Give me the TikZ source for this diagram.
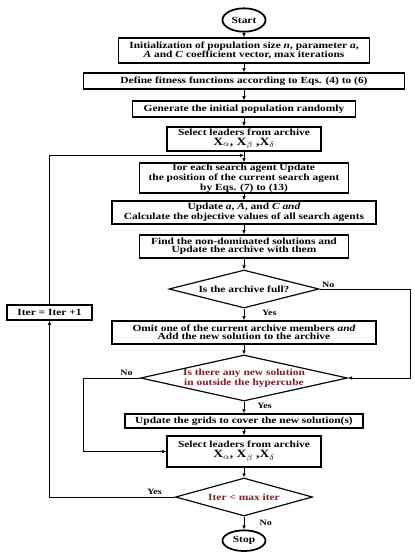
\documentclass[tikz,border=0pt]{standalone}
\usepackage{fontspec}
\setmainfont{Liberation Serif}[FakeStretch=1.22]
\usepackage{tikz}
\usetikzlibrary{shapes.geometric, arrows.meta, positioning, calc}

\definecolor{darkred}{RGB}{125,30,35}
\newcommand{\boxfont}{\fontsize{8}{7}\selectfont\bfseries}
\newcommand{\leaderset}{{\fontsize{9.5}{9.5}\selectfont X$_{\alpha}$, X$_{\beta}$ ,X$_{\delta}$}}

\begin{document}
\begin{tikzpicture}[
  %% box styles
  proc/.style={
    rectangle, draw=black, line width=1.3pt,
    align=center, inner sep=0.5pt, font=\boxfont},
  term/.style={
    ellipse, draw=black, line width=1.5pt,
    minimum width=1.29cm, minimum height=0.70cm, inner sep=0pt,
    font=\boxfont},
  decide/.style={
    diamond, draw=black, line width=1pt, aspect=4.5,
    align=center, inner sep=-3pt, font=\boxfont},
  arr/.style={-{Latex[length=3.5pt,width=3.2pt]}, line width=0.8pt},
  lbl/.style={font=\fontsize{7}{7}\selectfont\bfseries, inner sep=1pt}
]
\useasboundingbox (-7.32,0) rectangle (5.13,-16.59);

%% ── main column ──────────────────────────────────────────────────────────
\node[term] (start) at (0,-0.60) {Start};

\node[proc, minimum width=7.53cm, minimum height=0.75cm] (init) at (0,-1.515) {%
  Initialization of population size \textit{n}, parameter \textit{a},\\
  \textit{A} and \textit{C} coefficient vector, max iterations};

\node[proc, minimum width=9.63cm, minimum height=0.48cm] (define) at (0,-2.43) {%
  Define fitness functions according to Eqs. (4) to (6)};

\node[proc, minimum width=6.69cm, minimum height=0.48cm] (gen) at (0,-3.27) {%
  Generate the initial population randomly};

\node[proc, minimum width=4.62cm, minimum height=0.72cm] (sel1) at (0,-4.17) {%
  Select leaders from archive\\[1.5pt]
  \leaderset};

\node[proc, minimum width=6.27cm, minimum height=0.90cm] (foreach) at (0,-5.34) {%
  for each search agent Update\\
  the position of the current search agent\\
  by Eqs. (7) to (13)};

\node[proc, minimum width=7.92cm, minimum height=0.69cm] (upd) at (0,-6.375) {%
  Update \textit{a}, \textit{A}, and \textit{C and}\\
  Calculate the objective values of all search agents};

\node[proc, minimum width=6.27cm, minimum height=0.69cm] (find) at (0,-7.395) {%
  Find the non-dominated solutions and\\
  Update the archive with them};

\node[decide, minimum width=4.5cm, minimum height=1.14cm] (full) at (0,-8.67) {%
  Is the archive full?};

\node[proc, minimum width=7.92cm, minimum height=0.69cm] (omit) at (0,-9.975) {%
  Omit one of the current archive members \textit{and}\\
  Add the new solution to the archive};

\node[decide, minimum width=6.21cm, minimum height=1.38cm, text=darkred] (outside) at (0,-11.34) {%
  Is there any new solution\\
  in outside the hypercube};

\node[proc, minimum width=7.14cm, minimum height=0.42cm] (grid) at (0,-12.63) {%
  Update the grids to cover the new solution(s)};

\node[proc, minimum width=4.62cm, minimum height=0.93cm] (sel2) at (0,-13.545) {%
  Select leaders from archive\\[1.5pt]
  \leaderset};

\node[decide, minimum width=4.11cm, minimum height=1.14cm, text=darkred] (maxit) at (0,-14.91) {%
  Iter < max iter};

\node[term, minimum height=0.62cm] (stop) at (0,-16.22) {Stop};

%% iteration counter (left side)
\node[proc, minimum width=2.55cm, minimum height=0.45cm] (iter) at (-5.835,-9.375) {%
  Iter = Iter +1};

%% ── Arrows ───────────────────────────────────────────────────────────────
\draw[arr] (start)   -- (init);
\draw[arr] (init)    -- (define);
\draw[arr] (define)  -- (gen);
\draw[arr] (gen)     -- (sel1);
\draw[arr] (sel1)    -- (foreach);
\draw[arr] (foreach) -- (upd);
\draw[arr] (upd)     -- (find);
\draw[arr] (find)    -- (full);
\draw[arr] (full)    -- node[lbl, pos=0.4, right=14pt]{Yes} (omit);
\draw[arr] (omit)    -- (outside);
\draw[arr] (outside) -- node[lbl, pos=0.35, right=10pt]{Yes} (grid);
\draw[arr] (grid)    -- (sel2);
\draw[arr] (sel2)    -- (maxit);
\draw[arr] (maxit)   -- node[lbl, pos=0.45, right=12pt]{No} (stop);

%% archive full? -> no -> around the right side
\draw[arr] (full.east) -- ++(2.73,0) |- (outside.east);
\node[lbl, above right=0pt and 1pt of full.east] (fullno) {No};

%% outside hypercube? -> no -> straight to the leaders
\draw[arr] (outside.west) -- ++(-1.695,0) |- (sel2.west);
\node[lbl, above left=1pt and 5pt of outside.west] (outno) {No};

%% iteration loop (left side)
\draw[arr] (maxit.west) -| (iter.south);
\node[lbl, above left=1pt and 10pt of maxit.west] (maxyes) {Yes};
\draw[arr] (iter.north) |- ($(sel1.south)!0.35!(foreach.north)$);

\end{tikzpicture}
\end{document}
